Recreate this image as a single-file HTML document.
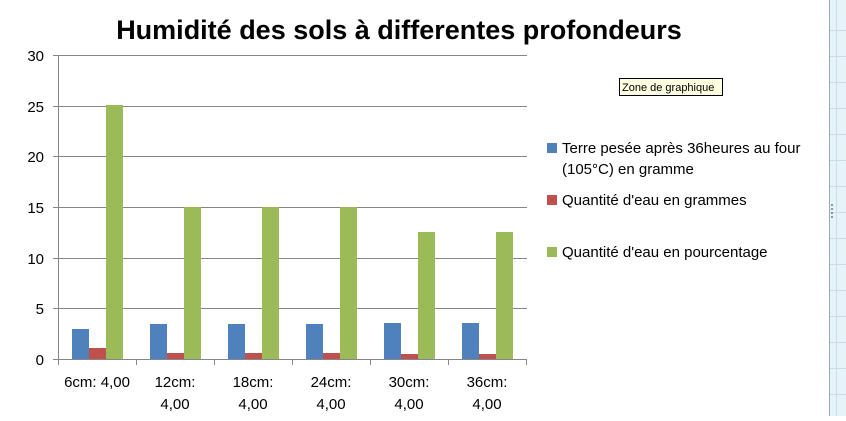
<!DOCTYPE html>
<html><head><meta charset="utf-8"><style>
body{margin:0;width:846px;height:416px;overflow:hidden;background:#fff;font-family:"Liberation Sans",sans-serif}
</style></head><body>
<svg width="846" height="416" xmlns="http://www.w3.org/2000/svg" font-family="Liberation Sans, sans-serif">
<rect x="0" y="0" width="846" height="416" fill="#fff"/>
<rect x="830" y="0" width="16" height="416" fill="#e6f3f8"/>
<line x1="829.5" y1="0" x2="829.5" y2="416" stroke="#9aa8b0"/>
<line x1="836.5" y1="0" x2="836.5" y2="416" stroke="#c9dde6"/>
<g stroke="#c9dde6">
<line x1="830" y1="30.5" x2="846" y2="30.5"/><line x1="830" y1="56.5" x2="846" y2="56.5"/><line x1="830" y1="82.5" x2="846" y2="82.5"/><line x1="830" y1="108.5" x2="846" y2="108.5"/><line x1="830" y1="134.5" x2="846" y2="134.5"/><line x1="830" y1="160.5" x2="846" y2="160.5"/><line x1="830" y1="186.5" x2="846" y2="186.5"/><line x1="830" y1="212.5" x2="846" y2="212.5"/><line x1="830" y1="238.5" x2="846" y2="238.5"/><line x1="830" y1="264.5" x2="846" y2="264.5"/><line x1="830" y1="290.5" x2="846" y2="290.5"/><line x1="830" y1="316.5" x2="846" y2="316.5"/><line x1="830" y1="342.5" x2="846" y2="342.5"/><line x1="830" y1="368.5" x2="846" y2="368.5"/><line x1="830" y1="394.5" x2="846" y2="394.5"/>
</g>
<text x="399" y="39" font-size="27" font-weight="bold" text-anchor="middle" fill="#000">Humidité des sols à differentes profondeurs</text>
<g stroke="#868686" stroke-width="1">
<line x1="58" y1="55.5" x2="527" y2="55.5"/><line x1="58" y1="106.5" x2="527" y2="106.5"/><line x1="58" y1="156.5" x2="527" y2="156.5"/><line x1="58" y1="207.5" x2="527" y2="207.5"/><line x1="58" y1="258.5" x2="527" y2="258.5"/><line x1="58" y1="308.5" x2="527" y2="308.5"/>
<line x1="53" y1="359.5" x2="527" y2="359.5"/>
<line x1="58.5" y1="55" x2="58.5" y2="365"/>
<line x1="53" y1="55.5" x2="58" y2="55.5"/><line x1="53" y1="106.5" x2="58" y2="106.5"/><line x1="53" y1="156.5" x2="58" y2="156.5"/><line x1="53" y1="207.5" x2="58" y2="207.5"/><line x1="53" y1="258.5" x2="58" y2="258.5"/><line x1="53" y1="308.5" x2="58" y2="308.5"/>
<line x1="136.5" y1="359" x2="136.5" y2="365"/><line x1="214.5" y1="359" x2="214.5" y2="365"/><line x1="292.5" y1="359" x2="292.5" y2="365"/><line x1="370.5" y1="359" x2="370.5" y2="365"/><line x1="448.5" y1="359" x2="448.5" y2="365"/><line x1="526.5" y1="359" x2="526.5" y2="365"/>
</g>
<g font-size="15" fill="#000" text-anchor="end">
<text x="44" y="61">30</text><text x="44" y="112">25</text><text x="44" y="162">20</text><text x="44" y="213">15</text><text x="44" y="264">10</text><text x="44" y="314">5</text><text x="44" y="365">0</text>
</g>
<g>
<rect x="72" y="329" width="17" height="30" fill="#4f81bd"/><rect x="89" y="348" width="17" height="11" fill="#c0504d"/><rect x="106" y="105" width="17" height="254" fill="#9bbb59"/>
<rect x="150" y="324" width="17" height="35" fill="#4f81bd"/><rect x="167" y="353" width="17" height="6" fill="#c0504d"/><rect x="184" y="207" width="17" height="152" fill="#9bbb59"/>
<rect x="228" y="324" width="17" height="35" fill="#4f81bd"/><rect x="245" y="353" width="17" height="6" fill="#c0504d"/><rect x="262" y="207" width="17" height="152" fill="#9bbb59"/>
<rect x="306" y="324" width="17" height="35" fill="#4f81bd"/><rect x="323" y="353" width="17" height="6" fill="#c0504d"/><rect x="340" y="207" width="17" height="152" fill="#9bbb59"/>
<rect x="384" y="323" width="17" height="36" fill="#4f81bd"/><rect x="401" y="354" width="17" height="5" fill="#c0504d"/><rect x="418" y="232" width="17" height="127" fill="#9bbb59"/>
<rect x="462" y="323" width="17" height="36" fill="#4f81bd"/><rect x="479" y="354" width="17" height="5" fill="#c0504d"/><rect x="496" y="232" width="17" height="127" fill="#9bbb59"/>
</g>
<g font-size="15" fill="#000" text-anchor="middle">
<text x="97" y="387">6cm: 4,00</text>
<text x="175" y="387">12cm:</text><text x="175" y="409">4,00</text>
<text x="253" y="387">18cm:</text><text x="253" y="409">4,00</text>
<text x="331" y="387">24cm:</text><text x="331" y="409">4,00</text>
<text x="409" y="387">30cm:</text><text x="409" y="409">4,00</text>
<text x="487" y="387">36cm:</text><text x="487" y="409">4,00</text>
</g>
<rect x="547" y="143" width="10" height="10" fill="#4f81bd"/>
<rect x="547" y="195" width="10" height="10" fill="#c0504d"/>
<rect x="547" y="247" width="10" height="10" fill="#9bbb59"/>
<g font-size="15" fill="#000">
<text x="562" y="153">Terre pesée après 36heures au four</text>
<text x="562" y="174">(105°C) en gramme</text>
<text x="562" y="205">Quantité d'eau en grammes</text>
<text x="562" y="257">Quantité d'eau en pourcentage</text>
</g>
<rect x="619.5" y="78.5" width="103" height="17" fill="#ffffe1" stroke="#000"/>
<text x="622" y="91" font-size="11" fill="#000">Zone de graphique</text>
<g fill="#8a9aa2"><rect x="831" y="204" width="2" height="2"/><rect x="831" y="208" width="2" height="2"/><rect x="831" y="212" width="2" height="2"/><rect x="831" y="216" width="2" height="2"/></g>
</svg>
</body></html>
